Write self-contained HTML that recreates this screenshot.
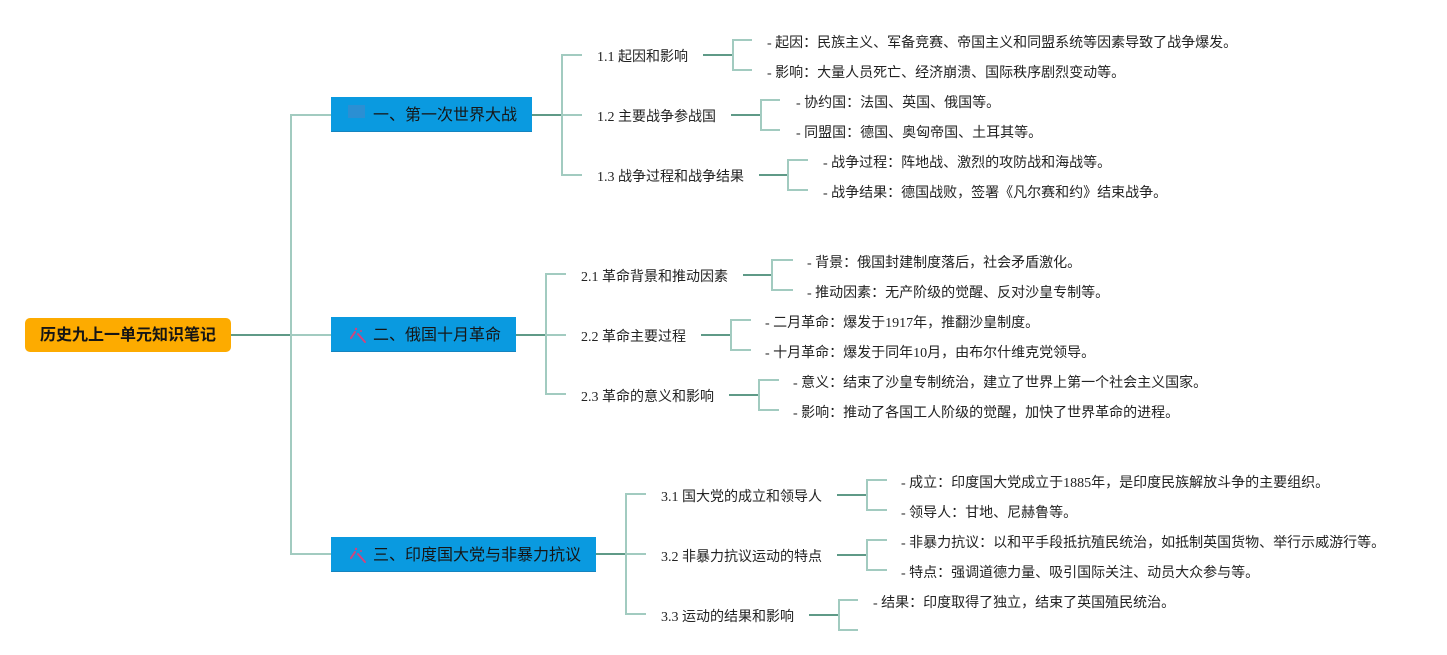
<!DOCTYPE html>
<html><head><meta charset="utf-8">
<style>
html,body{margin:0;padding:0;background:#fff;}
body{width:1447px;height:655px;position:relative;overflow:hidden;}
.t{position:absolute;white-space:nowrap;line-height:20px;height:20px;font-family:"Liberation Serif","Noto Sans CJK SC",sans-serif;font-size:14px;color:#222;margin-top:2px;}
.root{position:absolute;left:25px;top:318px;width:206px;height:34px;background:#fdab00;border-radius:5px;font-family:"Liberation Sans","Noto Sans CJK SC",sans-serif;font-weight:bold;font-size:16px;line-height:35px;text-align:center;color:#151515;}
.br{position:absolute;background:#0a9ae0;border-bottom:1px solid #1584bf;box-sizing:border-box;height:35px;font-family:"Liberation Sans","Noto Sans CJK SC",sans-serif;font-size:16px;line-height:35px;color:#161616;white-space:nowrap;}
.br span{position:absolute;left:42px;top:1px;}
svg{position:absolute;left:0;top:0;}
</style></head><body>
<svg width="1447" height="655" viewBox="0 0 1447 655">
<g fill="none" stroke-width="2">
<line x1="231" y1="335" x2="291" y2="335" stroke="#5f9a87"/>
<line x1="291" y1="114" x2="291" y2="555" stroke="#a2cbc0"/>
<line x1="291" y1="115" x2="331" y2="115" stroke="#a2cbc0"/>
<line x1="291" y1="335" x2="331" y2="335" stroke="#a2cbc0"/>
<line x1="291" y1="554" x2="331" y2="554" stroke="#a2cbc0"/>
<line x1="532" y1="115" x2="562" y2="115" stroke="#5f9a87"/>
<line x1="562" y1="54" x2="562" y2="176" stroke="#a2cbc0"/>
<line x1="562" y1="55" x2="582" y2="55" stroke="#a2cbc0"/>
<line x1="562" y1="115" x2="582" y2="115" stroke="#a2cbc0"/>
<line x1="562" y1="175" x2="582" y2="175" stroke="#a2cbc0"/>
<line x1="703" y1="55" x2="733" y2="55" stroke="#5f9a87"/>
<line x1="733" y1="39" x2="733" y2="71" stroke="#a2cbc0"/>
<line x1="733" y1="40" x2="752" y2="40" stroke="#a2cbc0"/>
<line x1="733" y1="70" x2="752" y2="70" stroke="#a2cbc0"/>
<line x1="731" y1="115" x2="761" y2="115" stroke="#5f9a87"/>
<line x1="761" y1="99" x2="761" y2="131" stroke="#a2cbc0"/>
<line x1="761" y1="100" x2="780" y2="100" stroke="#a2cbc0"/>
<line x1="761" y1="130" x2="780" y2="130" stroke="#a2cbc0"/>
<line x1="759" y1="175" x2="788" y2="175" stroke="#5f9a87"/>
<line x1="788" y1="159" x2="788" y2="191" stroke="#a2cbc0"/>
<line x1="788" y1="160" x2="808" y2="160" stroke="#a2cbc0"/>
<line x1="788" y1="190" x2="808" y2="190" stroke="#a2cbc0"/>
<line x1="516" y1="335" x2="546" y2="335" stroke="#5f9a87"/>
<line x1="546" y1="273" x2="546" y2="395" stroke="#a2cbc0"/>
<line x1="546" y1="274" x2="566" y2="274" stroke="#a2cbc0"/>
<line x1="546" y1="335" x2="566" y2="335" stroke="#a2cbc0"/>
<line x1="546" y1="394" x2="566" y2="394" stroke="#a2cbc0"/>
<line x1="743" y1="275" x2="772" y2="275" stroke="#5f9a87"/>
<line x1="772" y1="259" x2="772" y2="291" stroke="#a2cbc0"/>
<line x1="772" y1="260" x2="793" y2="260" stroke="#a2cbc0"/>
<line x1="772" y1="290" x2="793" y2="290" stroke="#a2cbc0"/>
<line x1="701" y1="335" x2="731" y2="335" stroke="#5f9a87"/>
<line x1="731" y1="319" x2="731" y2="351" stroke="#a2cbc0"/>
<line x1="731" y1="320" x2="751" y2="320" stroke="#a2cbc0"/>
<line x1="731" y1="350" x2="751" y2="350" stroke="#a2cbc0"/>
<line x1="729" y1="395" x2="759" y2="395" stroke="#5f9a87"/>
<line x1="759" y1="379" x2="759" y2="411" stroke="#a2cbc0"/>
<line x1="759" y1="380" x2="779" y2="380" stroke="#a2cbc0"/>
<line x1="759" y1="410" x2="779" y2="410" stroke="#a2cbc0"/>
<line x1="596" y1="554" x2="626" y2="554" stroke="#5f9a87"/>
<line x1="626" y1="493" x2="626" y2="615" stroke="#a2cbc0"/>
<line x1="626" y1="494" x2="646" y2="494" stroke="#a2cbc0"/>
<line x1="626" y1="554" x2="646" y2="554" stroke="#a2cbc0"/>
<line x1="626" y1="614" x2="646" y2="614" stroke="#a2cbc0"/>
<line x1="837" y1="495" x2="867" y2="495" stroke="#5f9a87"/>
<line x1="867" y1="479" x2="867" y2="511" stroke="#a2cbc0"/>
<line x1="867" y1="480" x2="887" y2="480" stroke="#a2cbc0"/>
<line x1="867" y1="510" x2="887" y2="510" stroke="#a2cbc0"/>
<line x1="837" y1="555" x2="867" y2="555" stroke="#5f9a87"/>
<line x1="867" y1="539" x2="867" y2="571" stroke="#a2cbc0"/>
<line x1="867" y1="540" x2="887" y2="540" stroke="#a2cbc0"/>
<line x1="867" y1="570" x2="887" y2="570" stroke="#a2cbc0"/>
<line x1="809" y1="615" x2="839" y2="615" stroke="#5f9a87"/>
<line x1="839" y1="599" x2="839" y2="631" stroke="#a2cbc0"/>
<line x1="839" y1="600" x2="858" y2="600" stroke="#a2cbc0"/>
<line x1="839" y1="630" x2="858" y2="630" stroke="#a2cbc0"/>
</g>
</svg>

<div class="root">历史九上一单元知识笔记</div>

<div class="br" style="left:331px;top:97px;width:201px;">
  <svg width="40" height="35" style="left:0;top:0"><rect x="17" y="8" width="17" height="13" fill="#2b8fd3"/></svg>
  <span>一、第一次世界大战</span></div>
<div class="br" style="left:331px;top:317px;width:185px;">
  <svg width="40" height="35" style="left:0;top:0"><g stroke="#d2457c" stroke-width="2" stroke-linecap="round" fill="none"><line x1="27" y1="17" x2="34" y2="25"/><line x1="24" y1="15" x2="20" y2="21"/></g><circle cx="25" cy="12" r="1.2" fill="#d2457c"/><circle cx="30" cy="14" r="1" fill="#d2457c"/></svg>
  <span>二、俄国十月革命</span></div>
<div class="br" style="left:331px;top:537px;width:265px;">
  <svg width="40" height="35" style="left:0;top:0"><g stroke="#d2457c" stroke-width="2" stroke-linecap="round" fill="none"><line x1="27" y1="17" x2="34" y2="25"/><line x1="24" y1="15" x2="20" y2="21"/></g><circle cx="25" cy="12" r="1.2" fill="#d2457c"/><circle cx="30" cy="14" r="1" fill="#d2457c"/></svg>
  <span>三、印度国大党与非暴力抗议</span></div>

<div class="t" style="left:597px;top:46px;">1.1 起因和影响</div>
<div class="t" style="left:597px;top:106px;">1.2 主要战争参战国</div>
<div class="t" style="left:597px;top:166px;">1.3 战争过程和战争结果</div>
<div class="t" style="left:581px;top:266px;">2.1 革命背景和推动因素</div>
<div class="t" style="left:581px;top:326px;">2.2 革命主要过程</div>
<div class="t" style="left:581px;top:386px;">2.3 革命的意义和影响</div>
<div class="t" style="left:661px;top:486px;">3.1 国大党的成立和领导人</div>
<div class="t" style="left:661px;top:546px;">3.2 非暴力抗议运动的特点</div>
<div class="t" style="left:661px;top:606px;">3.3 运动的结果和影响</div>

<div class="t" style="left:767px;top:32px;">- 起因：民族主义、军备竞赛、帝国主义和同盟系统等因素导致了战争爆发。</div>
<div class="t" style="left:767px;top:62px;">- 影响：大量人员死亡、经济崩溃、国际秩序剧烈变动等。</div>
<div class="t" style="left:796px;top:92px;">- 协约国：法国、英国、俄国等。</div>
<div class="t" style="left:796px;top:122px;">- 同盟国：德国、奥匈帝国、土耳其等。</div>
<div class="t" style="left:823px;top:152px;">- 战争过程：阵地战、激烈的攻防战和海战等。</div>
<div class="t" style="left:823px;top:182px;">- 战争结果：德国战败，签署《凡尔赛和约》结束战争。</div>
<div class="t" style="left:807px;top:252px;">- 背景：俄国封建制度落后，社会矛盾激化。</div>
<div class="t" style="left:807px;top:282px;">- 推动因素：无产阶级的觉醒、反对沙皇专制等。</div>
<div class="t" style="left:765px;top:312px;">- 二月革命：爆发于1917年，推翻沙皇制度。</div>
<div class="t" style="left:765px;top:342px;">- 十月革命：爆发于同年10月，由布尔什维克党领导。</div>
<div class="t" style="left:793px;top:372px;">- 意义：结束了沙皇专制统治，建立了世界上第一个社会主义国家。</div>
<div class="t" style="left:793px;top:402px;">- 影响：推动了各国工人阶级的觉醒，加快了世界革命的进程。</div>
<div class="t" style="left:901px;top:472px;">- 成立：印度国大党成立于1885年，是印度民族解放斗争的主要组织。</div>
<div class="t" style="left:901px;top:502px;">- 领导人：甘地、尼赫鲁等。</div>
<div class="t" style="left:901px;top:532px;">- 非暴力抗议：以和平手段抵抗殖民统治，如抵制英国货物、举行示威游行等。</div>
<div class="t" style="left:901px;top:562px;">- 特点：强调道德力量、吸引国际关注、动员大众参与等。</div>
<div class="t" style="left:873px;top:592px;">- 结果：印度取得了独立，结束了英国殖民统治。</div>
</body></html>
